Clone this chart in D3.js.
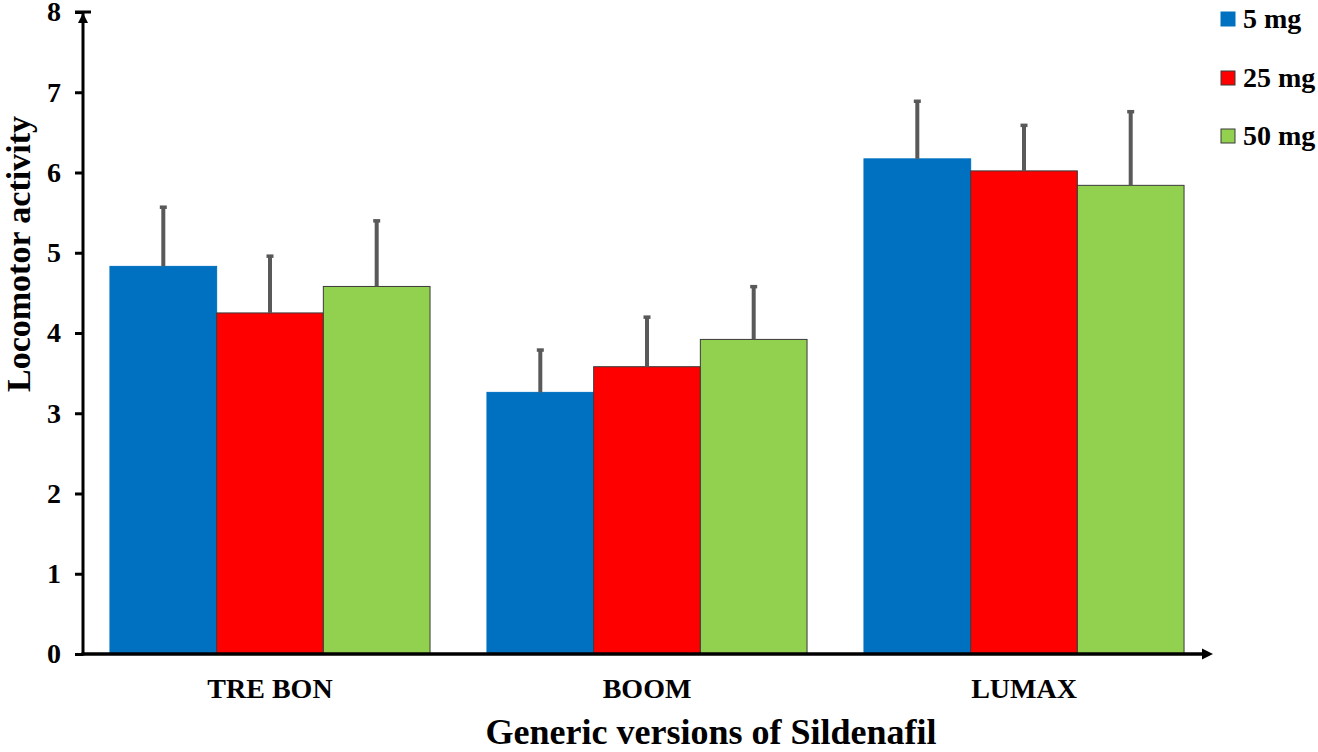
<!DOCTYPE html>
<html>
<head>
<meta charset="utf-8">
<script src="https://cdn.jsdelivr.net/npm/d3@7"></script>
<style>
  html, body { margin: 0; padding: 0; background: #fff; }
  svg { display: block; }
  text { font-family: "Liberation Serif", "Times New Roman", serif; font-weight: bold; fill: #000; }
</style>
</head>
<body>
<svg id="chart" width="1318" height="752"></svg>
<script>
const categories = ["TRE BON", "BOOM", "LUMAX"];
const seriesNames = ["5 mg", "25 mg", "50 mg"];
const values5 = [4.83, 3.26, 6.17];
const values25 = [4.25, 3.58, 6.02];
const values50 = [4.58, 3.92, 5.84];
const err5 = [0.75, 0.54, 0.73];
const err25 = [0.72, 0.63, 0.58];
const err50 = [0.83, 0.67, 0.93];
const yTicks = [0, 1, 2, 3, 4, 5, 6, 7, 8];
const colors = ["#0070C0", "#FF0000", "#92D050"];
const strokes = ["#0070C0", "#3a3a3a", "#3a3a3a"];

const seriesValues = [values5, values25, values50];
const seriesErr = [err5, err25, err50];

const svg = d3.select("#chart");
const x0 = 83, x1 = 1211, yBottom = 654, yTop = 12;

const x = d3.scaleBand().domain(categories).range([x0, x1]).paddingInner(0.151).paddingOuter(0.0715);
const xs = d3.scaleBand().domain(seriesNames).range([0, x.bandwidth()]).padding(0);
const y = d3.scaleLinear().domain([0, 8]).range([yBottom, yTop]);

const data = [];
categories.forEach((c, ci) => {
  seriesNames.forEach((s, si) => {
    data.push({ cat: c, ser: s, si: si, v: seriesValues[si][ci], e: seriesErr[si][ci] });
  });
});

// bars
svg.append("g").selectAll("rect").data(data).join("rect")
  .attr("x", d => x(d.cat) + xs(d.ser))
  .attr("y", d => y(d.v))
  .attr("width", xs.bandwidth())
  .attr("height", d => y(0) - y(d.v))
  .attr("fill", d => colors[d.si])
  .attr("stroke", d => strokes[d.si])
  .attr("stroke-width", 1);

// error bars
const eg = svg.append("g");
eg.selectAll("line.err").data(data).join("line").attr("class", "err")
  .attr("x1", d => x(d.cat) + xs(d.ser) + xs.bandwidth() / 2)
  .attr("x2", d => x(d.cat) + xs(d.ser) + xs.bandwidth() / 2)
  .attr("y1", d => y(d.v))
  .attr("y2", d => y(d.v + d.e))
  .attr("stroke", "#595959").attr("stroke-width", 4);
eg.selectAll("line.cap").data(data).join("line").attr("class", "cap")
  .attr("x1", d => x(d.cat) + xs(d.ser) + xs.bandwidth() / 2 - 3.5)
  .attr("x2", d => x(d.cat) + xs(d.ser) + xs.bandwidth() / 2 + 3.5)
  .attr("y1", d => y(d.v + d.e) + 1)
  .attr("y2", d => y(d.v + d.e) + 1)
  .attr("stroke", "#595959").attr("stroke-width", 3.5);

// y axis
const yAxis = d3.axisLeft(y).tickValues(yTicks).tickSize(8).tickPadding(14).tickFormat(d3.format("d"));
const ya = svg.append("g").attr("transform", `translate(${x0},0)`).call(yAxis);
ya.select(".domain").remove();
ya.selectAll(".tick line").attr("stroke", "#000").attr("stroke-width", 3);
ya.selectAll(".tick text").style("font-size", "28px").attr("font-family", null).attr("fill", "#000");
ya.append("line").attr("x1", 0).attr("x2", 0).attr("y1", y(0) + 1.5).attr("y2", y(8))
  .attr("stroke", "#000").attr("stroke-width", 3);
ya.append("line").attr("x1", -8).attr("x2", 8).attr("y1", y(8)).attr("y2", y(8))
  .attr("stroke", "#000").attr("stroke-width", 3);
ya.append("path").attr("d", `M0,${y(8) + 1} L-5,${y(8) + 11} L5,${y(8) + 11} Z`).attr("fill", "#000");

// x axis
const xAxis = d3.axisBottom(x).tickSize(0).tickPadding(24);
const xa = svg.append("g").attr("transform", `translate(0,${yBottom})`).call(xAxis);
xa.select(".domain").remove();
xa.selectAll(".tick text").style("font-size", "28px").attr("font-family", null).attr("fill", "#000");
xa.append("line").attr("x1", x0 - 1.5).attr("x2", x1 - 6).attr("y1", 0).attr("y2", 0)
  .attr("stroke", "#000").attr("stroke-width", 3.5);
xa.append("path").attr("d", `M${x1 + 2},0 L${x1 - 9},-5.5 L${x1 - 9},5.5 Z`).attr("fill", "#000");

// axis titles
svg.append("text").attr("x", 711).attr("y", 744).attr("text-anchor", "middle")
  .style("font-size", "36px").text("Generic versions of Sildenafil");
svg.append("text").attr("transform", "translate(30,254) rotate(-90)").attr("text-anchor", "middle")
  .style("font-size", "34px").text("Locomotor activity");

// legend
const legendBase = [28, 87, 145];
const lg = svg.append("g");
seriesNames.forEach((s, i) => {
  lg.append("rect").attr("x", 1221).attr("y", legendBase[i] - 16).attr("width", 14).attr("height", 14)
    .attr("fill", colors[i]).attr("stroke", strokes[i]).attr("stroke-width", 1);
  lg.append("text").attr("x", 1243).attr("y", legendBase[i]).style("font-size", "28px").text(s);
});
</script>
</body>
</html>
